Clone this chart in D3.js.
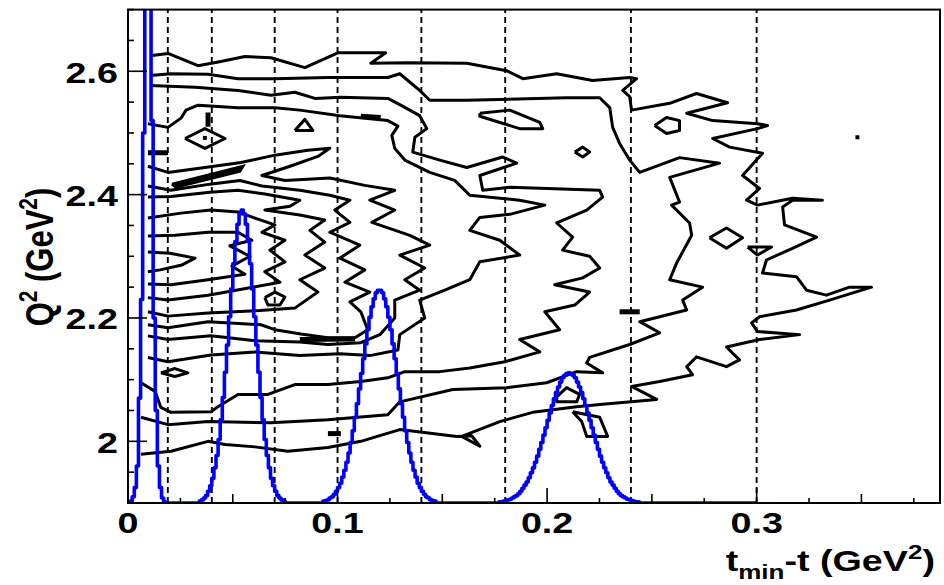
<!DOCTYPE html>
<html><head><meta charset="utf-8">
<script src="https://cdn.jsdelivr.net/npm/d3@7"></script>
<style>
body{margin:0;background:#fff;}
svg{display:block;}
text{font-family:"Liberation Sans",Arial,Helvetica,sans-serif;font-weight:bold;fill:#000;}
</style>
</head><body>
<svg id="chart" width="944" height="585"></svg>
<script>
// ---------------- data ----------------
const xTickLabels = [0, 0.1, 0.2, 0.3];
const yTickLabels = [2, 2.2, 2.4, 2.6];
const tBinEdges = [0.019, 0.04, 0.07, 0.1, 0.14, 0.18, 0.24, 0.3];   // dashed vertical lines

// blue t-distributions (heights above histBase, bins of histBinWidth)
const histBinWidth = 0.001, histEnd = 0.3, histBase = 1.9;
const peak1Start = 0.000;
const peak1 = [0.000,0.003,0.010,0.025,0.060,0.170,0.330,0.600,0.850,0.900,0.840,0.620,0.300,0.150,0.060,0.025,0.008,0.002];
const peak2Start = 0.034;
const peak2 = [0.003,0.005,0.008,0.012,0.019,0.028,0.040,0.057,0.077,0.103,0.135,0.171,0.212,0.256,0.302,0.347,0.388,0.424,0.452,0.469,0.475,0.469,0.452,0.424,0.388,0.347,0.302,0.256,0.212,0.171,0.135,0.103,0.077,0.057,0.040,0.028,0.019,0.012,0.008,0.005,0.003];
const peak3Start = 0.093;
const peak3 = [0.003,0.004,0.005,0.008,0.010,0.014,0.019,0.025,0.032,0.042,0.053,0.066,0.081,0.098,0.117,0.139,0.161,0.185,0.210,0.234,0.258,0.281,0.301,0.318,0.331,0.341,0.345,0.345,0.341,0.331,0.318,0.301,0.281,0.258,0.234,0.210,0.185,0.161,0.139,0.117,0.098,0.081,0.066,0.053,0.042,0.032,0.025,0.019,0.014,0.010,0.008,0.005,0.004,0.003];
const peak4Start = 0.177;
const peak4 = [0.002,0.002,0.003,0.004,0.005,0.006,0.008,0.010,0.012,0.015,0.019,0.024,0.029,0.034,0.041,0.049,0.057,0.066,0.076,0.087,0.098,0.110,0.122,0.134,0.146,0.158,0.169,0.179,0.188,0.196,0.203,0.207,0.210,0.211,0.210,0.207,0.203,0.196,0.188,0.179,0.169,0.158,0.146,0.134,0.122,0.110,0.098,0.087,0.076,0.066,0.057,0.049,0.041,0.034,0.029,0.024,0.019,0.015,0.012,0.010,0.008,0.006,0.005,0.004,0.003,0.002,0.002];

// contour lines of the (t, Q2) distribution: [t, Q2]
const contour1 = [[0.0105,2.625],[0.0191,2.629],[0.0334,2.609],[0.0443,2.616],[0.0558,2.624],[0.0682,2.622],[0.0844,2.606],[0.1001,2.630],[0.1230,2.630],[0.1159,2.613],[0.1335,2.614],[0.1617,2.613],[0.1807,2.601],[0.1884,2.588],[0.2046,2.596],[0.2217,2.585],[0.2394,2.590],[0.2427,2.588],[0.2361,2.569],[0.2394,2.559],[0.2403,2.537],[0.2585,2.548],[0.2713,2.564],[0.2861,2.549],[0.2666,2.532],[0.2790,2.520],[0.3004,2.515],[0.3052,2.512],[0.3004,2.507],[0.2790,2.491],[0.2871,2.477],[0.3028,2.467],[0.2933,2.431],[0.3014,2.410],[0.2952,2.391],[0.3004,2.383],[0.3171,2.394],[0.3314,2.391],[0.3171,2.391],[0.3124,2.380],[0.3133,2.351],[0.3286,2.331],[0.3171,2.313],[0.3047,2.294],[0.3028,2.273],[0.3190,2.267],[0.3238,2.245],[0.3333,2.237],[0.3443,2.250],[0.3548,2.250],[0.3348,2.229],[0.3190,2.213],[0.3014,2.202],[0.2976,2.192],[0.3004,2.178],[0.3205,2.173],[0.3014,2.165],[0.2856,2.153],[0.2918,2.132],[0.2856,2.121],[0.2713,2.137],[0.2666,2.121],[0.2694,2.108],[0.2537,2.097],[0.2403,2.089],[0.2523,2.068],[0.2265,2.060],[0.2141,2.056],[0.1931,2.047],[0.1774,2.032],[0.1593,2.008],[0.1679,1.992],[0.1640,2.009],[0.1569,2.008],[0.1297,2.019],[0.1111,2.000],[0.0954,1.990],[0.0763,1.984],[0.0606,1.991],[0.0463,1.995],[0.0382,2.000],[0.0205,1.984],[0.0062,1.979]];
const contour2 = [[0.0105,2.593],[0.0205,2.596],[0.0382,2.595],[0.0525,2.588],[0.0701,2.588],[0.0954,2.590],[0.1240,2.590],[0.1297,2.596],[0.1392,2.569],[0.1440,2.553],[0.1617,2.553],[0.2093,2.557],[0.2251,2.557],[0.2299,2.541],[0.2313,2.509],[0.2346,2.483],[0.2394,2.456],[0.2442,2.436],[0.2632,2.460],[0.2823,2.451],[0.2585,2.428],[0.2632,2.388],[0.2594,2.383],[0.2680,2.354],[0.2690,2.334],[0.2618,2.289],[0.2585,2.262],[0.2742,2.250],[0.2647,2.229],[0.2666,2.213],[0.2442,2.194],[0.2537,2.176],[0.2394,2.157],[0.2203,2.136],[0.2189,2.127],[0.2265,2.111],[0.2141,2.113],[0.1998,2.095],[0.1807,2.087],[0.1550,2.084],[0.1297,2.064],[0.1240,2.043],[0.0954,2.035],[0.0682,2.030],[0.0382,2.032],[0.0191,2.027],[0.0062,2.039]];
const contour3 = [[0.0105,2.577],[0.0320,2.574],[0.0525,2.569],[0.0682,2.561],[0.0796,2.566],[0.0892,2.556],[0.1016,2.558],[0.1240,2.556],[0.1297,2.546],[0.1392,2.528],[0.1426,2.507],[0.1369,2.493],[0.1359,2.469],[0.1488,2.456],[0.1617,2.444],[0.1788,2.461],[0.1855,2.451],[0.1679,2.431],[0.1693,2.407],[0.1822,2.412],[0.2251,2.407],[0.2265,2.396],[0.2189,2.375],[0.2046,2.354],[0.2122,2.331],[0.2074,2.310],[0.2203,2.300],[0.2251,2.281],[0.2170,2.265],[0.2036,2.254],[0.2203,2.242],[0.2132,2.221],[0.1989,2.210],[0.2060,2.181],[0.1869,2.165],[0.1965,2.145],[0.1798,2.129],[0.1631,2.119],[0.1488,2.113],[0.1321,2.113],[0.1240,2.103],[0.1111,2.097],[0.0954,2.092],[0.0796,2.092],[0.0668,2.076],[0.0525,2.076],[0.0429,2.056],[0.0396,2.048],[0.0205,2.047],[0.0157,2.055],[0.0129,2.081],[0.0062,2.095]];
const contour4 = [[0.0095,2.515],[0.0191,2.509],[0.0253,2.524],[0.0277,2.537],[0.0334,2.545],[0.0525,2.541],[0.0701,2.541],[0.0820,2.537],[0.1011,2.528],[0.1240,2.520],[0.1288,2.511],[0.1259,2.496],[0.1273,2.475],[0.1321,2.456],[0.1440,2.436],[0.1559,2.423],[0.1631,2.399],[0.1869,2.391],[0.1989,2.383],[0.1822,2.368],[0.1679,2.363],[0.1631,2.342],[0.1774,2.326],[0.1869,2.302],[0.1679,2.291],[0.1631,2.262],[0.1512,2.245],[0.1392,2.229],[0.1416,2.200],[0.1297,2.173],[0.1288,2.148],[0.1154,2.139],[0.1011,2.142],[0.0820,2.139],[0.0606,2.145],[0.0396,2.140],[0.0191,2.129],[0.0095,2.136]];
const contour5 = [[0.0095,2.446],[0.0191,2.436],[0.0367,2.444],[0.0539,2.452],[0.0701,2.464],[0.0858,2.472],[0.0963,2.475],[0.0906,2.462],[0.0773,2.446],[0.0639,2.431],[0.0749,2.423],[0.0963,2.427],[0.1130,2.415],[0.1273,2.407],[0.1154,2.391],[0.1273,2.375],[0.1164,2.355],[0.1345,2.334],[0.1440,2.318],[0.1297,2.302],[0.1416,2.281],[0.1321,2.262],[0.1392,2.245],[0.1273,2.229],[0.1273,2.200],[0.1202,2.173],[0.1111,2.160],[0.0954,2.157],[0.0820,2.161],[0.0606,2.163],[0.0396,2.171],[0.0191,2.165],[0.0095,2.171]];
const contour6 = [[0.0095,2.414],[0.0205,2.407],[0.0391,2.417],[0.0534,2.423],[0.0639,2.414],[0.0820,2.407],[0.0963,2.399],[0.1059,2.391],[0.0987,2.375],[0.1059,2.355],[0.0963,2.339],[0.1106,2.318],[0.1011,2.297],[0.1130,2.278],[0.1035,2.258],[0.1154,2.242],[0.1059,2.226],[0.1111,2.210],[0.1144,2.181],[0.1083,2.168],[0.0954,2.168],[0.0825,2.174],[0.0701,2.181],[0.0634,2.189],[0.0382,2.194],[0.0191,2.184],[0.0095,2.189]];
const contour7 = [[0.0095,2.396],[0.0205,2.397],[0.0391,2.404],[0.0525,2.407],[0.0653,2.401],[0.0820,2.391],[0.0773,2.381],[0.0653,2.375],[0.0820,2.367],[0.0939,2.359],[0.0868,2.342],[0.0939,2.323],[0.0844,2.302],[0.0939,2.281],[0.0820,2.262],[0.0906,2.242],[0.0796,2.216],[0.0629,2.212],[0.0382,2.208],[0.0191,2.203],[0.0095,2.210]];
const contour8 = [[0.0095,2.362],[0.0253,2.370],[0.0396,2.375],[0.0525,2.372],[0.0606,2.362],[0.0701,2.351],[0.0639,2.339],[0.0749,2.326],[0.0677,2.310],[0.0749,2.291],[0.0653,2.275],[0.0725,2.258],[0.0582,2.249],[0.0382,2.237],[0.0191,2.229],[0.0095,2.233]];
const contour9 = [[0.0095,2.333],[0.0224,2.334],[0.0382,2.339],[0.0525,2.339],[0.0591,2.326],[0.0486,2.317],[0.0582,2.300],[0.0496,2.284],[0.0558,2.271],[0.0382,2.262],[0.0205,2.254],[0.0095,2.255]];
const contour10 = [[0.0095,2.307],[0.0200,2.305],[0.0320,2.297],[0.0258,2.286],[0.0153,2.278],[0.0095,2.275]];

// small closed contours (islands)
const islandDiamond = [[0.0272,2.491],[0.0367,2.507],[0.0463,2.491],[0.0367,2.475],[0.0272,2.491]];
const islandTriangle = [[0.0796,2.504],[0.0844,2.522],[0.0882,2.504],[0.0796,2.504]];
const islandLong = [[0.1679,2.532],[0.1822,2.537],[0.1965,2.517],[0.1979,2.507],[0.1869,2.507],[0.1679,2.527],[0.1679,2.532]];
const islandSmall = [[0.2132,2.469],[0.2170,2.477],[0.2203,2.469],[0.2170,2.461],[0.2132,2.469]];
const islandRight1 = [[0.2775,2.330],[0.2856,2.346],[0.2933,2.330],[0.2856,2.313],[0.2775,2.330]];
const islandRight2 = [[0.2957,2.315],[0.3071,2.315],[0.3004,2.302],[0.2957,2.315]];
const islandRight3 = [[0.2513,2.512],[0.2570,2.525],[0.2632,2.520],[0.2632,2.504],[0.2570,2.499],[0.2513,2.512]];
const islandPeak2 = [[0.0653,2.233],[0.0701,2.242],[0.0749,2.234],[0.0725,2.221],[0.0668,2.221],[0.0653,2.233]];
const islandLow = [[0.0157,2.111],[0.0224,2.118],[0.0286,2.111],[0.0224,2.105],[0.0157,2.111]];
const islandPeak4a = [[0.2046,2.072],[0.2093,2.087],[0.2155,2.076],[0.2141,2.064],[0.2046,2.064],[0.2046,2.072]];
const islandPeak4b = [[0.2122,2.048],[0.2251,2.039],[0.2289,2.008],[0.2189,2.008],[0.2165,2.032],[0.2122,2.048]];
const islandDark = [[0.0210,2.417],[0.0548,2.446],[0.0534,2.438],[0.0229,2.412],[0.0210,2.417]];
const thickMarks = [
  [[0.0382,2.533],[0.0382,2.510]],
  [[0.0095,2.468],[0.0191,2.468]],
  [[0.0820,2.165],[0.1083,2.166]],
  [[0.2346,2.210],[0.2442,2.210]],
  [[0.0954,2.0125],[0.1016,2.0125]],
  [[0.1111,2.527],[0.1206,2.525]]
];
const dots = [[0.3481,2.493],[0.0367,2.492]];

// ---------------- drawing ----------------
const L = 128, R = 940, T = 9.6, B = 503;
const svg = d3.select("#chart");
const x = d3.scaleLinear().domain([0, 0.3875]).range([L, R]);
const y = d3.scaleLinear().domain([1.9, 2.7]).range([B, T]);

svg.append("defs").append("clipPath").attr("id","plotclip")
  .append("rect").attr("x",L).attr("y",T).attr("width",R-L).attr("height",B-T);
const plot = svg.append("g").attr("clip-path","url(#plotclip)");

// dashed bin boundaries
plot.selectAll("line.bin").data(tBinEdges).enter().append("line")
  .attr("class","bin")
  .attr("x1", d=>x(d)).attr("x2", d=>x(d))
  .attr("y1", y(1.9)).attr("y2", y(2.7))
  .attr("stroke","#000").attr("stroke-width",1.9).attr("stroke-dasharray","6,4");

// contours
const line = d3.line().x(d=>x(d[0])).y(d=>y(d[1]));
const contours = [contour1,contour2,contour3,contour4,contour5,contour6,contour7,contour8,contour9,contour10];
const islands = [islandDiamond,islandTriangle,islandLong,islandSmall,islandRight1,islandRight2,islandRight3,islandPeak2,islandLow,islandPeak4a,islandPeak4b];
plot.selectAll("path.cont").data(contours.concat(islands)).enter().append("path")
  .attr("class","cont").attr("d", line)
  .attr("fill","none").attr("stroke","#000").attr("stroke-width",3).attr("stroke-linejoin","round");
plot.append("path").datum(islandDark).attr("d", line)
  .attr("fill","#000").attr("stroke","#000").attr("stroke-width",3);
plot.selectAll("path.thick").data(thickMarks).enter().append("path")
  .attr("class","thick").attr("d", line)
  .attr("fill","none").attr("stroke","#000").attr("stroke-width",5);
plot.selectAll("rect.dot").data(dots).enter().append("rect")
  .attr("x", d=>x(d[0])-2).attr("y", d=>y(d[1])-2).attr("width",4).attr("height",4).attr("fill","#000");

// blue histogram
const nBins = Math.round(histEnd/histBinWidth);
const counts = new Array(nBins).fill(0);
[[peak1Start,peak1],[peak2Start,peak2],[peak3Start,peak3],[peak4Start,peak4]].forEach(([s,arr])=>{
  const i0 = Math.round(s/histBinWidth);
  arr.forEach((v,k)=>{ counts[i0+k] = v; });
});
const histPts = counts.map((v,i)=>[i*histBinWidth, histBase+v]);
histPts.push([histEnd, histBase+counts[nBins-1]]);
const stepLine = d3.line().x(d=>x(d[0])).y(d=>y(d[1])).curve(d3.curveStepAfter);
plot.append("path").datum(histPts).attr("d", stepLine)
  .attr("fill","none").attr("stroke","#0000ff").attr("stroke-width",3.6).attr("stroke-linejoin","round");

// frame
svg.append("rect").attr("x",L).attr("y",T).attr("width",R-L).attr("height",B-T)
  .attr("fill","none").attr("stroke","#000").attr("stroke-width",2);

// ticks
const ax = svg.append("g");
const xMinor = d3.range(0, 0.3875, 0.025);
xMinor.forEach(v=>{
  const k = Math.round(v/0.025);
  const len = (k%4===0) ? 15 : (k%2===0 ? 9 : 5);
  ax.append("line").attr("x1",x(v)).attr("x2",x(v)).attr("y1",B).attr("y2",B-len)
    .attr("stroke","#000").attr("stroke-width",1.6);
});
const yMinor = d3.range(1.9, 2.7001, 0.05);
yMinor.forEach(v=>{
  const k = Math.round((v-1.9)/0.05);
  const len = ((k-2)%4===0) ? 19 : 6;
  ax.append("line").attr("x1",L).attr("x2",L+len).attr("y1",y(v)).attr("y2",y(v))
    .attr("stroke","#000").attr("stroke-width",1.6);
});

// tick labels
svg.selectAll("text.xl").data(xTickLabels).enter().append("text")
  .attr("class","xl").attr("text-anchor","middle").attr("font-size",29)
  .attr("transform", d=>`translate(${x(d)},533) scale(1.3,1)`).text(d=>String(d));
svg.selectAll("text.yl").data(yTickLabels).enter().append("text")
  .attr("class","yl").attr("text-anchor","end").attr("font-size",29)
  .attr("transform", d=>`translate(118,${y(d)+11.5}) scale(1.3,1)`).text(d=>String(d));

// axis titles
const xt = svg.append("text").attr("text-anchor","end").attr("font-size",29)
  .attr("transform","translate(935,571) scale(1.3,1)");
xt.append("tspan").text("t");
xt.append("tspan").attr("font-size",20).attr("dy",8).text("min");
xt.append("tspan").attr("dy",-8).text("-t (GeV");
xt.append("tspan").attr("font-size",20).attr("dy",-12).text("2");
xt.append("tspan").attr("dy",12).text(")");

const yt = svg.append("text").attr("text-anchor","middle").attr("font-size",31)
  .attr("transform","translate(53,257) scale(1.25,1) rotate(-90)");
yt.append("tspan").text("Q");
yt.append("tspan").attr("font-size",21).attr("dy",-13).text("2");
yt.append("tspan").attr("dy",13).text(" (GeV");
yt.append("tspan").attr("font-size",21).attr("dy",-13).text("2");
yt.append("tspan").attr("dy",13).text(")");
</script>
</body></html>
